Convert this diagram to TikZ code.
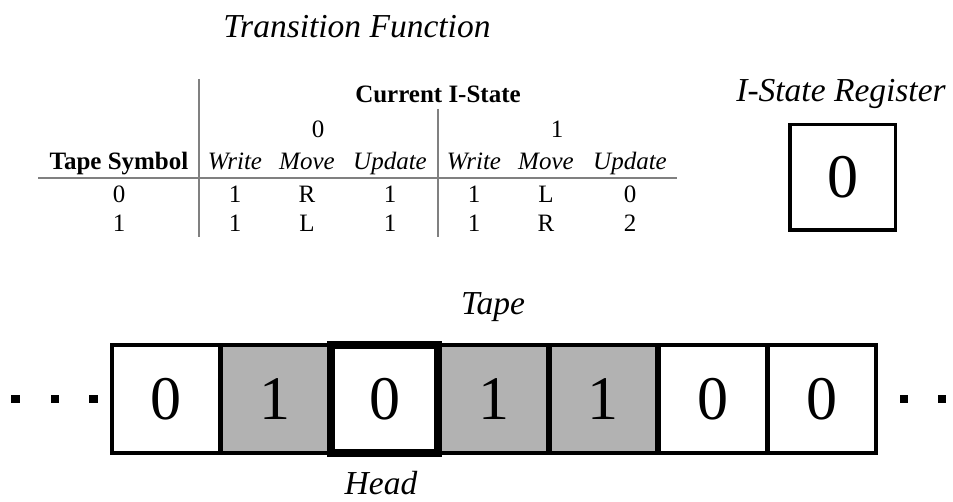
\documentclass[tikz,border=0pt]{standalone}
\usepackage{fontspec}
\setmainfont{Liberation Serif}
\usetikzlibrary{positioning}
\definecolor{rulegray}{RGB}{128,128,128}
\definecolor{tapegray}{RGB}{178,178,178}
\tikzset{
  ttl/.style={font=\fontsize{33.5}{40}\selectfont\itshape, anchor=base, inner sep=0pt},
  tb/.style={font=\fontsize{25}{30}\selectfont, anchor=base, inner sep=0pt},
  tbb/.style={tb, font=\fontsize{25}{30}\selectfont\bfseries},
  tbi/.style={tb, font=\fontsize{25}{30}\selectfont\itshape},
  trule/.style={rulegray, line width=2pt},
  cellw/.style={draw, line width=4pt, minimum size=107.6pt, inner sep=0pt, font=\fontsize{62}{70}\selectfont},
  cellg/.style={cellw, fill=tapegray},
  hcell/.style={cellw, line width=8pt},
  regbox/.style={cellw, line width=3.5pt, minimum size=105.5pt},
  dotn/.style={fill, inner sep=0pt, minimum size=8.5pt},
}
\begin{document}
\begin{tikzpicture}[x=1pt, y=-1pt]
\useasboundingbox (0,0) rectangle (953,502);
% transition function
\node[ttl] (tftitle) at (357,38) {Transition Function};
\coordinate (v1top) at (199,79);  \coordinate (v1bot) at (199,237);
\coordinate (v2top) at (438,109); \coordinate (v2bot) at (438,237);
\coordinate (hl) at (38,178);     \coordinate (hr) at (677,178);
\draw[trule] (v1top) -- (v1bot);
\draw[trule] (v2top) -- (v2bot);
\draw[trule] (hl) -- (hr);
\node[tbb] (cur) at (438,103) {Current I-State};
\node[tb] (st0) at (318,138) {0};
\node[tb] (st1) at (557,138) {1};
\node[tbb] (sym) at (119,170) {Tape Symbol};
\node[tbi] (w0) at (235,170) {Write};
\node[tbi] (m0) at (307,170) {Move};
\node[tbi] (u0) at (390,170) {Update};
\node[tbi] (w1) at (474,170) {Write};
\node[tbi] (m1) at (546,170) {Move};
\node[tbi] (u1) at (630,170) {Update};
% rows
\node[tb] (r0) at (119,203) {0};
\node[tb] (r0w0) at (235,203) {1};
\node[tb] (r0m0) at (307,203) {R};
\node[tb] (r0u0) at (390,203) {1};
\node[tb] (r0w1) at (474,203) {1};
\node[tb] (r0m1) at (546,203) {L};
\node[tb] (r0u1) at (630,203) {0};
\node[tb] (r1) at (119,232) {1};
\node[tb] (r1w0) at (235,232) {1};
\node[tb] (r1m0) at (307,232) {L};
\node[tb] (r1u0) at (390,232) {1};
\node[tb] (r1w1) at (474,232) {1};
\node[tb] (r1m1) at (546,232) {R};
\node[tb] (r1u1) at (630,232) {2};
% register
\node[ttl] (regtitle) at (841,102) {I-State Register};
\node[regbox] (reg) at (842.5,177.5) {0};
% tape
\node[ttl] (tapetitle) at (493,315) {Tape};
\node[cellw] (c1) at (165.7,399) {0};
\node[cellg] (c2) at (275.1,399) {1};
\node[cellg] (c4) at (493.9,399) {1};
\node[cellg] (c5) at (603.3,399) {1};
\node[cellw] (c6) at (712.7,399) {0};
\node[cellw] (c7) at (822.1,399) {0};
\node[hcell] (c3) at (384.5,399) {0};
\node[ttl] (head) at (381,494) {Head};
\node[dotn] (dl1) at (15.5,399) {};
\node[dotn] (dl2) at (55,399) {};
\node[dotn] (dl3) at (93.5,399) {};
\node[dotn] (dr1) at (904,399) {};
\node[dotn] (dr2) at (942,399) {};
\end{tikzpicture}
\end{document}
